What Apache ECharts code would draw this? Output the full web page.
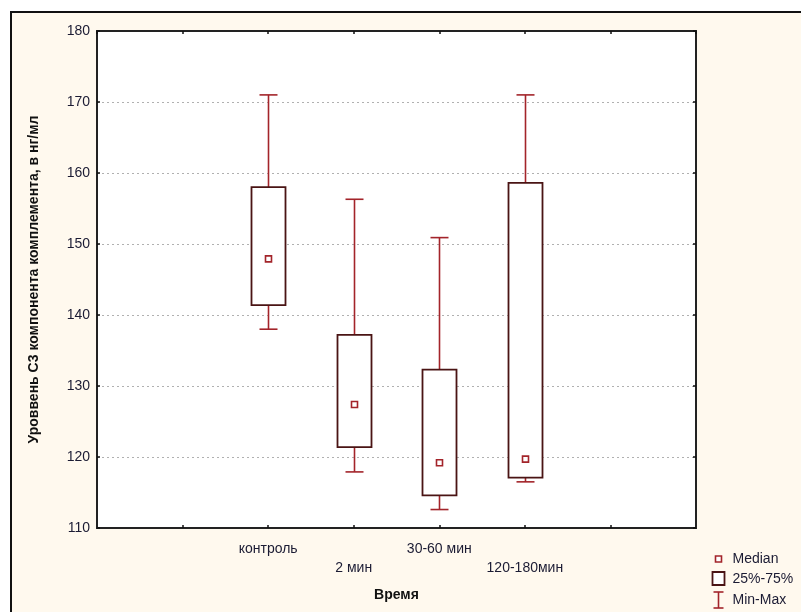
<!DOCTYPE html>
<html>
<head>
<meta charset="utf-8">
<script src="https://cdn.jsdelivr.net/npm/echarts@6/dist/echarts.min.js"></script>
<style>html,body{margin:0;padding:0;background:#fff;}#c{width:801px;height:612px;}</style>
</head>
<body>
<div id="c"></div>
<script>
const categories = ['контроль', '2 мин', '30-60 мин', '120-180мин'];
const minVals    = [138.0, 117.9, 112.6, 116.5];
const q1Vals     = [141.4, 121.4, 114.6, 117.1];
const medianVals = [147.9, 127.4, 119.2, 119.7];
const q3Vals     = [158.0, 137.2, 132.3, 158.6];
const maxVals    = [171.0, 156.3, 150.9, 171.0];
const yTicks     = [110, 120, 130, 140, 150, 160, 170, 180];
const legendLabels = ['Median', '25%-75%', 'Min-Max'];

const WHISKER = '#a3242a';
const BOX = '#4a1414';
const TEXT = '#1b1b33';
const FONT = 'Liberation Sans';

const seriesData = categories.map((c, i) => [i, minVals[i], q1Vals[i], medianVals[i], q3Vals[i], maxVals[i]]);

const chart = echarts.init(document.getElementById('c'), null, {renderer: 'canvas'});

function renderItem(params, api) {
  const x = api.value(0);
  const lo = api.coord([x, api.value(1)]);
  const q1 = api.coord([x, api.value(2)]);
  const med = api.coord([x, api.value(3)]);
  const q3 = api.coord([x, api.value(4)]);
  const hi = api.coord([x, api.value(5)]);
  const cx = Math.round(lo[0]) + 0.5;
  const bw = 34, cw = 18, ms = 6;
  const wStyle = {stroke: WHISKER, lineWidth: 1.6, fill: null};
  return {
    type: 'group',
    children: [
      {type: 'line', shape: {x1: cx, y1: hi[1], x2: cx, y2: q3[1]}, style: wStyle},
      {type: 'line', shape: {x1: cx, y1: q1[1], x2: cx, y2: lo[1]}, style: wStyle},
      {type: 'line', shape: {x1: cx - cw / 2, y1: hi[1], x2: cx + cw / 2, y2: hi[1]}, style: wStyle},
      {type: 'line', shape: {x1: cx - cw / 2, y1: lo[1], x2: cx + cw / 2, y2: lo[1]}, style: wStyle},
      {type: 'rect', shape: {x: cx - bw / 2, y: q3[1], width: bw, height: q1[1] - q3[1]},
        style: {stroke: BOX, lineWidth: 1.8, fill: '#fff'}},
      {type: 'rect', shape: {x: cx - ms / 2, y: med[1] - ms / 2, width: ms, height: ms},
        style: {stroke: WHISKER, lineWidth: 1.6, fill: '#fff'}}
    ]
  };
}

const tickStyle = {lineStyle: {color: '#111', width: 1.5}};

const option = {
  backgroundColor: '#ffffff',
  animation: false,
  textStyle: {fontFamily: FONT},
  grid: {left: 97, top: 31, right: 105, bottom: 84, show: true, backgroundColor: '#ffffff',
    borderColor: '#222', borderWidth: 2, containLabel: false},
  xAxis: [{
    type: 'value', min: -2, max: 5, interval: 1, position: 'bottom',
    axisLine: {show: true, onZero: false, lineStyle: {color: '#222', width: 2}},
    axisTick: {show: true, inside: true, length: 3, ...tickStyle},
    splitLine: {show: false},
    axisLabel: {
      margin: 12, color: TEXT, fontSize: 14, fontFamily: FONT, lineHeight: 19,
      showMinLabel: false, showMaxLabel: false,
      formatter: function (v) {
        const i = Math.round(v);
        if (i < 0 || i >= categories.length) return '';
        return i % 2 ? '\n' + categories[i] : categories[i];
      }
    },
    name: 'Время', nameLocation: 'middle', nameGap: 60,
    nameTextStyle: {color: '#111', fontSize: 14, fontWeight: 'bold', fontFamily: FONT}
  }, {
    type: 'value', min: -2, max: 5, interval: 1, position: 'top',
    axisLine: {show: true, onZero: false, lineStyle: {color: '#222', width: 2}},
    axisTick: {show: true, inside: true, length: 3, ...tickStyle},
    axisLabel: {show: false}, splitLine: {show: false}
  }],
  yAxis: [{
    type: 'value', min: yTicks[0], max: yTicks[yTicks.length - 1], interval: 10, position: 'left',
    axisLine: {show: true, onZero: false, lineStyle: {color: '#222', width: 2}},
    axisTick: {show: true, inside: true, length: 3, ...tickStyle},
    splitLine: {show: true, lineStyle: {color: '#b0b0b0', width: 1, type: [2, 3]}},
    axisLabel: {margin: 7, color: TEXT, fontSize: 14, fontFamily: FONT},
    name: 'Уроввень С3 компонента комплемента, в нг/мл', nameLocation: 'middle', nameGap: 56,
    nameTextStyle: {color: '#111', fontSize: 14, fontWeight: 'bold', fontFamily: FONT}
  }, {
    type: 'value', min: yTicks[0], max: yTicks[yTicks.length - 1], interval: 10, position: 'right',
    axisLine: {show: true, onZero: false, lineStyle: {color: '#222', width: 2}},
    axisTick: {show: true, inside: true, length: 3, ...tickStyle},
    axisLabel: {show: false}, splitLine: {show: false}
  }],
  graphic: [
    {type: 'rect', z: -100, silent: true, shape: {x: 11, y: 12, width: 800, height: 610},
      style: {fill: '#fff9ee', stroke: '#111', lineWidth: 2}},
    {type: 'group', left: 711, top: 552, children: [
      {type: 'rect', shape: {x: 4, y: 2, width: 6, height: 6}, style: {fill: '#fff', stroke: WHISKER, lineWidth: 1.6}},
      {type: 'text', x: 21, y: 5, style: {text: legendLabels[0], fill: TEXT, font: '14px "Liberation Sans"', verticalAlign: 'middle'}},
      {type: 'rect', shape: {x: 1, y: 18, width: 12, height: 13}, style: {fill: '#fff', stroke: BOX, lineWidth: 1.8}},
      {type: 'text', x: 21, y: 25, style: {text: legendLabels[1], fill: TEXT, font: '14px "Liberation Sans"', verticalAlign: 'middle'}},
      {type: 'line', shape: {x1: 7, y1: 38, x2: 7, y2: 54}, style: {stroke: WHISKER, lineWidth: 1.6}},
      {type: 'line', shape: {x1: 2, y1: 38, x2: 12, y2: 38}, style: {stroke: WHISKER, lineWidth: 1.6}},
      {type: 'line', shape: {x1: 2, y1: 54, x2: 12, y2: 54}, style: {stroke: WHISKER, lineWidth: 1.6}},
      {type: 'text', x: 21, y: 46, style: {text: legendLabels[2], fill: TEXT, font: '14px "Liberation Sans"', verticalAlign: 'middle'}}
    ]}
  ],
  series: [{
    type: 'custom', xAxisIndex: 0, yAxisIndex: 0,
    renderItem: renderItem,
    encode: {x: 0, y: [1, 2, 3, 4, 5]},
    data: seriesData,
    z: 10
  }]
};
chart.setOption(option);
</script>
</body>
</html>
